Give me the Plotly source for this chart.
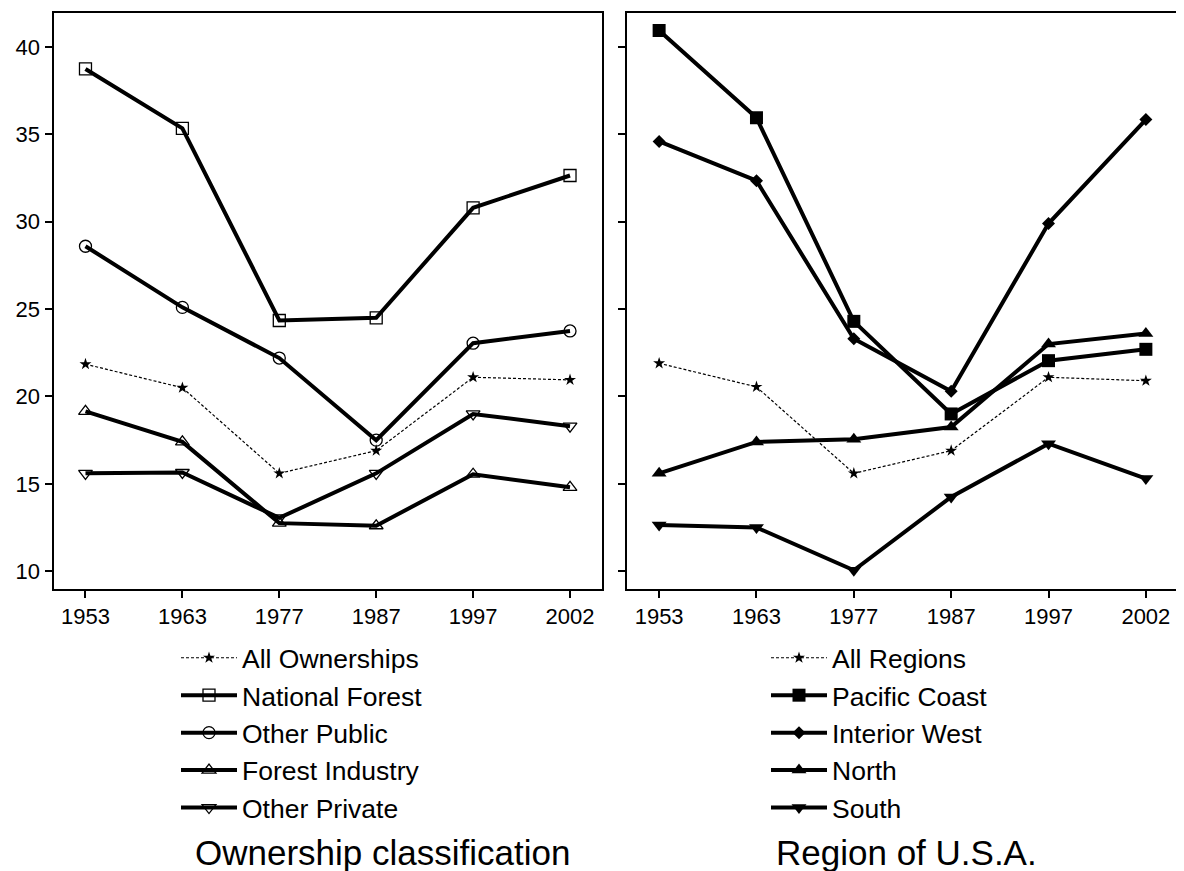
import plotly.graph_objects as go

years = ["1953", "1963", "1977", "1987", "1997", "2002"]

# Left panel: ownership classification
all_ownerships = [21.85, 20.5, 15.6, 16.9, 21.1, 20.95]
national_forest = [38.75, 35.35, 24.35, 24.5, 30.8, 32.65]
other_public = [28.6, 25.1, 22.2, 17.5, 23.05, 23.75]
forest_industry = [19.15, 17.4, 12.75, 12.6, 15.55, 14.8]
other_private = [15.6, 15.65, 13.05, 15.6, 19.0, 18.3]

# Right panel: region of U.S.A.
all_regions = [21.9, 20.55, 15.6, 16.9, 21.1, 20.9]
pacific_coast = [40.95, 35.95, 24.3, 19.0, 22.05, 22.7]
interior_west = [34.6, 32.35, 23.3, 20.3, 29.9, 35.85]
north = [15.6, 17.4, 17.55, 18.25, 23.0, 23.6]
south = [12.65, 12.5, 10.05, 14.25, 17.3, 15.3]

FONT = "Liberation Sans, Arial, sans-serif"
BLACK = "#000000"

fig = go.Figure()

def add(name, y, symbol, size, xaxis, yaxis, legend, dotted=False, lw=1.3):
    if dotted:
        line = dict(color=BLACK, width=1.2, dash="3px,2px")
    else:
        line = dict(color=BLACK, width=4)
    fig.add_trace(go.Scatter(
        x=years, y=y, name=name, mode="lines+markers",
        line=line,
        marker=dict(symbol=symbol, size=size, color=BLACK,
                    line=dict(color=BLACK, width=lw)),
        xaxis=xaxis, yaxis=yaxis, legend=legend,
    ))

add("All Ownerships", all_ownerships, "star", 9, "x", "y", "legend", dotted=True, lw=0)
add("National Forest", national_forest, "square-open", 12, "x", "y", "legend")
add("Other Public", other_public, "circle-open", 12, "x", "y", "legend")
add("Forest Industry", forest_industry, "triangle-up-open", 12, "x", "y", "legend")
add("Other Private", other_private, "triangle-down-open", 12, "x", "y", "legend")

add("All Regions", all_regions, "star", 9, "x2", "y2", "legend2", dotted=True, lw=0)
add("Pacific Coast", pacific_coast, "square", 13, "x2", "y2", "legend2", lw=0)
add("Interior West", interior_west, "diamond", 10, "x2", "y2", "legend2", lw=0)
add("North", north, "triangle-up", 13, "x2", "y2", "legend2", lw=0)
add("South", south, "triangle-down", 13, "x2", "y2", "legend2", lw=0)

# page has an 8px body margin; figure coordinates are page coordinates minus 8
W, H = 1176, 863
top_px, bot_px = 4.5, 581.0
ydom = [1 - bot_px / H, 1 - top_px / H]

xcommon = dict(type="category", range=[-0.33, 5.33], showline=True, linecolor=BLACK,
               linewidth=2, mirror=True, ticks="outside", ticklen=7, tickwidth=1.5,
               tickcolor=BLACK, showgrid=False, zeroline=False,
               tickfont=dict(family=FONT, size=22, color=BLACK))
ycommon = dict(range=[8.98, 41.98], tickvals=[10, 15, 20, 25, 30, 35, 40], showline=True,
               linecolor=BLACK, linewidth=2, mirror=True, ticks="outside", ticklen=7,
               tickwidth=1.5, tickcolor=BLACK, showgrid=False, zeroline=False,
               tickfont=dict(family=FONT, size=22, color=BLACK))

legend_common = dict(font=dict(family=FONT, size=26.5, color=BLACK), bgcolor="rgba(0,0,0,0)",
                     xanchor="left", yanchor="top", itemwidth=56, tracegroupgap=0,
                     traceorder="normal")

fig.update_layout(
    width=W, height=H,
    margin=dict(l=0, r=0, t=0, b=0),
    paper_bgcolor="white", plot_bgcolor="white",
    showlegend=True,
    xaxis=dict(domain=[45.5 / W, 594 / W], anchor="y", **xcommon),
    yaxis=dict(domain=ydom, anchor="x", **ycommon),
    xaxis2=dict(domain=[619 / W, 1170 / W], anchor="y2", **xcommon),
    yaxis2=dict(domain=ydom, anchor="x2", showticklabels=False, **ycommon),
    legend=dict(x=168 / W, y=1 - 626 / H, **legend_common),
    legend2=dict(x=758 / W, y=1 - 626 / H, **legend_common),
    annotations=[
        dict(text="Ownership classification", x=374 / W, y=1 - 844 / H, xref="paper", yref="paper",
             showarrow=False, xanchor="center", yanchor="middle",
             font=dict(family=FONT, size=35, color=BLACK)),
        dict(text="Region of U.S.A.", x=898 / W, y=1 - 844 / H, xref="paper", yref="paper",
             showarrow=False, xanchor="center", yanchor="middle",
             font=dict(family=FONT, size=35, color=BLACK)),
    ],
)

fig.write_html("out.html")
